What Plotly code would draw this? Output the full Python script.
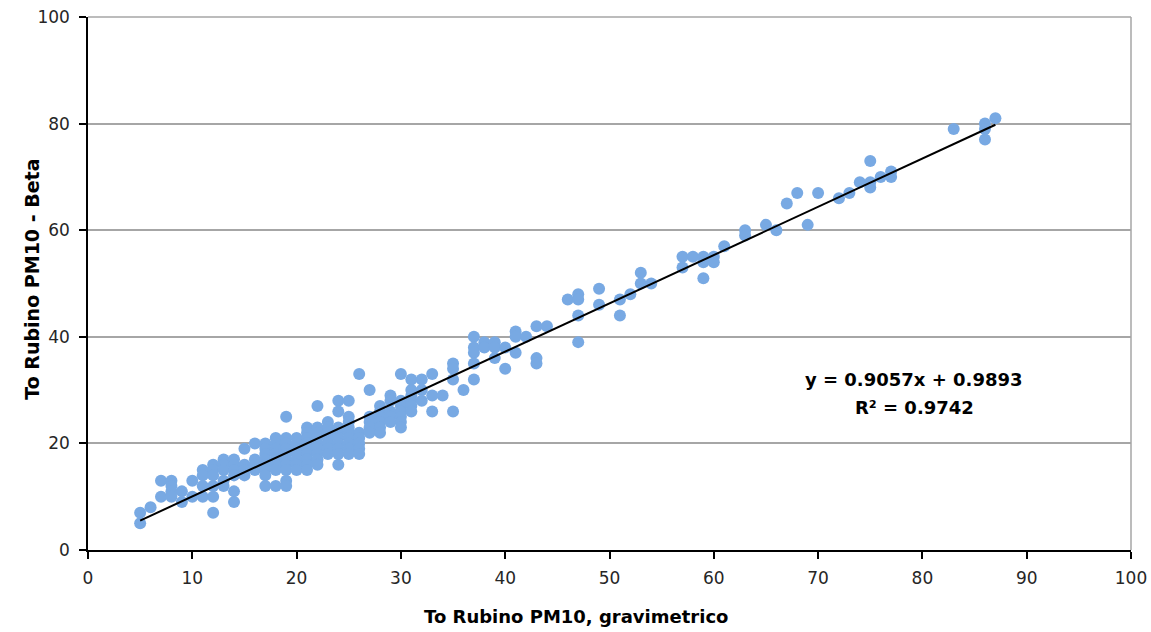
import plotly.graph_objects as go

# Gravimetric PM10 (x) vs Beta PM10 (y), µg/m³
pts = [
 (5,5),(5,7),(6,8),(7,10),(7,13),(8,13),(8,12),(8,11),(8,10),(9,9),(9,11),(10,10),(10,13),
 (11,15),(11,14),(11,12),(11,10),(12,16),(12,15),(12,14),(12,12),(12,10),(12,7),
 (13,17),(13,16),(13,15),(13,13),(13,12),(14,17),(14,16),(14,15),(14,14),(14,11),(14,9),
 (15,19),(15,16),(15,15),(15,14),(16,20),(16,17),(16,16),(16,15),
 (17,20),(17,19),(17,18),(17,17),(17,16),(17,15),(17,14),(17,12),
 (18,21),(18,20),(18,19),(18,18),(18,17),(18,16),(18,15),(18,12),
 (19,25),(19,21),(19,20),(19,19),(19,18),(19,17),(19,16),(19,15),(19,13),(19,12),
 (20,21),(20,20),(20,19),(20,18),(20,17),(20,16),(20,15),
 (21,23),(21,22),(21,21),(21,20),(21,19),(21,18),(21,17),(21,16),(21,15),
 (22,27),(22,23),(22,22),(22,21),(22,20),(22,19),(22,18),(22,17),(22,16),
 (23,24),(23,23),(23,22),(23,21),(23,20),(23,19),(23,18),
 (24,28),(24,26),(24,23),(24,22),(24,21),(24,20),(24,19),(24,18),(24,16),
 (25,28),(25,25),(25,24),(25,23),(25,22),(25,21),(25,20),(25,19),(25,18),
 (26,33),(26,22),(26,21),(26,20),(26,19),(26,18),
 (27,30),(27,25),(27,24),(27,23),(27,22),
 (28,27),(28,26),(28,25),(28,24),(28,23),(28,22),
 (29,29),(29,28),(29,26),(29,25),(29,24),
 (30,33),(30,28),(30,27),(30,26),(30,25),(30,24),(30,23),
 (31,32),(31,30),(31,29),(31,28),(31,27),(31,26),
 (32,32),(32,30),(32,28),(33,33),(33,29),(33,26),(34,29),
 (35,35),(35,34),(35,32),(35,26),(36,30),
 (37,40),(37,38),(37,37),(37,35),(37,32),(38,39),(38,38),
 (39,39),(39,38),(39,36),(40,38),(40,34),(41,41),(41,40),(41,37),(42,40),
 (43,42),(43,36),(43,35),(44,42),
 (46,47),(47,48),(47,47),(47,44),(47,39),
 (49,49),(49,46),(51,47),(51,44),(52,48),(53,52),(53,50),(54,50),
 (57,55),(57,53),(58,55),(59,55),(59,54),(59,51),(60,55),(60,54),(61,57),
 (63,60),(63,59),(65,61),(66,60),(67,65),(68,67),(69,61),(70,67),(72,66),(73,67),
 (74,69),(75,73),(75,69),(75,68),(76,70),(77,71),(77,70),(83,79),(86,80),(86,79),(86,77),(87,81),
]
grav = [p[0] for p in pts]
beta = [p[1] for p in pts]

slope = 0.9057
intercept = 0.9893
r2 = 0.9742

x_ticks = list(range(0, 101, 10))
y_ticks = list(range(0, 101, 20))

FONT = "DejaVu Sans"
GRID = "#A6A6A6"

line_x = [min(grav), max(grav)]
line_y = [slope * v + intercept for v in line_x]

fig = go.Figure()
fig.add_trace(go.Scatter(x=grav, y=beta, mode="markers",
                         marker=dict(size=12, color="#78A9E3", line=dict(width=0)),
                         showlegend=False, hoverinfo="skip"))
fig.add_trace(go.Scatter(x=line_x, y=line_y, mode="lines",
                         line=dict(color="black", width=2), showlegend=False, hoverinfo="skip"))

# equation of the trendline
fig.add_annotation(x=0.792, y=0.319, xref="paper", yref="paper", xanchor="center", yanchor="middle",
                   text=f"<b>y = {slope}x + {intercept}</b>",
                   showarrow=False, font=dict(family=FONT, size=18, color="black"))
fig.add_annotation(x=0.792, y=0.268, xref="paper", yref="paper", xanchor="center", yanchor="middle",
                   text=f"<b>R² = {r2}</b>",
                   showarrow=False, font=dict(family=FONT, size=18, color="black"))

# axis titles
fig.add_annotation(x=0.468, y=-0.124, xref="paper", yref="paper", xanchor="center", yanchor="middle",
                   text="<b>To Rubino PM10, gravimetrico</b>", showarrow=False,
                   font=dict(family=FONT, size=18, color="black"))
fig.add_annotation(x=0, y=0.507, xref="paper", yref="paper", xanchor="center", yanchor="middle",
                   xshift=-56, textangle=-90,
                   text="<b>To Rubino PM10 - Beta</b>", showarrow=False,
                   font=dict(family=FONT, size=19, color="black"))

# plot-area border (top and right), grey like the gridlines
fig.add_shape(type="line", xref="x domain", yref="y domain", x0=0, x1=1, y0=1, y1=1,
              line=dict(color=GRID, width=1.5))
fig.add_shape(type="line", xref="x domain", yref="y domain", x0=1, x1=1, y0=0, y1=1,
              line=dict(color=GRID, width=1.5))

fig.update_layout(
    template="none",
    width=1151, height=632,
    margin=dict(l=88, r=20, t=17, b=82, autoexpand=False),
    paper_bgcolor="white", plot_bgcolor="white",
    font=dict(family=FONT, size=17, color="#262626"),
    xaxis=dict(range=[0, 100], tickvals=x_ticks, showgrid=False, zeroline=False,
               automargin=False,
               showline=True, linecolor="black", linewidth=1.5,
               ticks="outside", ticklen=7, tickwidth=1.5, tickcolor="black", ticklabelstandoff=5),
    yaxis=dict(range=[0, 100], tickvals=y_ticks, showgrid=True, gridcolor=GRID,
               gridwidth=1.5, zeroline=False, showline=True, linecolor="black", linewidth=1.5,
               automargin=False,
               ticks="outside", ticklen=7, tickwidth=1.5, tickcolor="black", ticklabelstandoff=6),
)

fig.write_html("out.html")
